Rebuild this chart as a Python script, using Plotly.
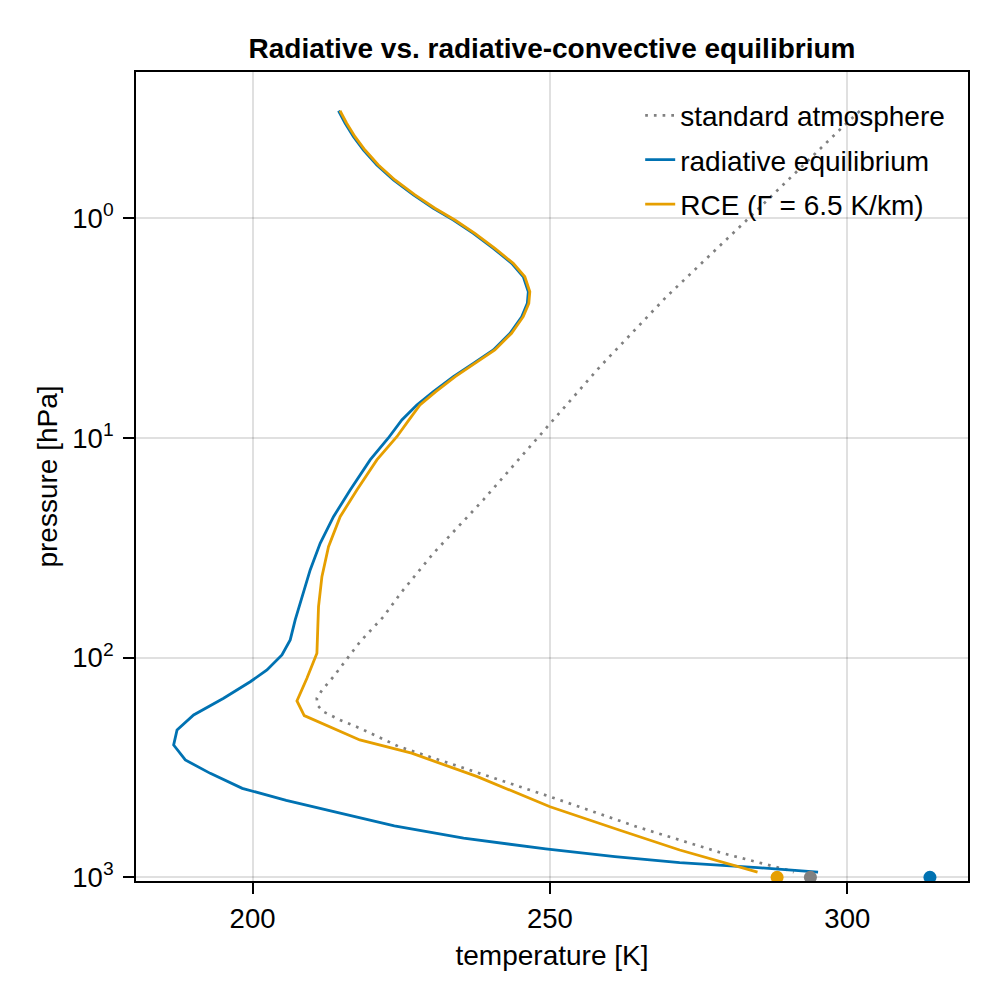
import plotly.graph_objects as go

# ---------------- data ----------------
# standard atmosphere
std_p = [0.325, 0.389, 1.019, 2.275, 4.742, 9.683, 19.14, 33.50, 50.12, 65.16,
         84.53, 106.2, 122.2, 140.3, 153.1, 164.4, 176.2, 192.3, 209.9, 254.1,
         319.2, 429.5, 588.8, 778.0, 926.8, 948.4]
std_T = [302.1, 299.0, 283.1, 269.6, 258.4, 248.3, 238.8, 230.4, 225.1, 222.0,
         218.1, 215.3, 213.6, 211.7, 210.8, 210.9, 211.9, 214.7, 218.1, 224.6,
         235.5, 250.0, 264.6, 279.1, 290.0, 291.0]

# radiative equilibrium
re_p = [0.324, 0.369, 0.425, 0.489, 0.572, 0.669, 0.783, 0.900, 1.018, 1.170,
        1.370, 1.603, 1.845, 2.159, 2.438, 2.805, 3.338, 3.977, 4.573, 5.262,
        6.158, 7.079, 8.283, 10.03, 12.59, 17.26, 22.82, 30.17, 39.9, 52.8,
        67.4, 83.1, 97.27, 113.8, 128.8, 153.1, 182.4, 213.3, 250.0, 292.4,
        336.5, 393.6, 446.7, 502.3, 583.4, 663.7, 743.0, 805.4, 857.0, 903.6,
        948.4]
re_T = [214.45, 215.57, 216.97, 218.65, 220.90, 223.69, 227.05, 230.41, 233.77, 237.13,
        240.49, 243.58, 245.53, 246.37, 246.20, 245.26, 243.30, 240.49, 237.13, 233.77,
        230.41, 227.62, 225.10, 222.80, 219.77, 216.41, 213.61, 211.37, 209.69, 208.30,
        207.17, 206.33, 204.94, 202.42, 199.61, 195.13, 190.09, 187.30, 186.73, 188.69,
        192.89, 198.27, 205.66, 213.66, 223.84, 235.48, 249.29, 260.92, 271.82, 284.91,
        295.09]

# radiative-convective equilibrium (lapse rate 6.5 K/km)
rce_p = [0.324, 0.369, 0.425, 0.489, 0.572, 0.669, 0.783, 0.900, 1.018, 1.170,
         1.370, 1.603, 1.845, 2.159, 2.438, 2.805, 3.338, 3.977, 4.573, 5.262,
         6.158, 7.079, 8.28, 9.87, 12.59, 17.26, 22.82, 31.26, 42.8, 58.6,
         95.5, 124.2, 157.4, 183.7, 237.1, 272.3, 348.3, 477.5, 609.5, 751.6,
         948.4]
rce_T = [214.70, 215.82, 217.22, 218.90, 221.15, 223.94, 227.30, 230.66, 234.02, 237.38,
         240.74, 243.83, 245.78, 246.62, 246.45, 245.51, 243.55, 240.74, 237.38, 234.07,
         230.81, 228.15, 226.30, 224.26, 220.90, 217.54, 214.73, 212.77, 211.66, 211.09,
         210.82, 209.14, 207.46, 208.69, 218.03, 226.75, 237.80, 250.02, 261.64, 271.82,
         284.91]

# surface temperatures (at 1000 hPa)
surf_p = [1000]
surf_T_std = [293.8]
surf_T_re = [313.9]
surf_T_rce = [288.2]

x_tickvals = [200, 250, 300]
y_tickvals = [1, 10, 100, 1000]
y_ticktext = ["10<sup>0</sup>", "10<sup>1</sup>", "10<sup>2</sup>", "10<sup>3</sup>"]

x_range = [180.4, 320.3]
y_range_log = [3.017, -0.666]  # reversed (pressure increases downward)

title_text = "Radiative vs. radiative-convective equilibrium"
x_title = "temperature [K]"
y_title = "pressure [hPa]"

# ---------------- style ----------------
BLUE = "#0072B2"
ORANGE = "#E69F00"
GRAY = "#808080"
FONT = "Liberation Sans"
FS = 28
TFS = 27.5

fig = go.Figure()

fig.add_trace(go.Scatter(x=std_T, y=std_p, mode="lines", name="standard atmosphere",
                         legendgroup="a",
                         line=dict(color=GRAY, width=2.7, dash="2.7px,6px")))
fig.add_trace(go.Scatter(x=re_T, y=re_p, mode="lines", name="radiative equilibrium",
                         legendgroup="b",
                         line=dict(color=BLUE, width=2.8)))
fig.add_trace(go.Scatter(x=rce_T, y=rce_p, mode="lines", name="RCE (Γ = 6.5 K/km)",
                         legendgroup="c",
                         line=dict(color=ORANGE, width=2.8)))

for tx, col in [(surf_T_std, GRAY), (surf_T_re, BLUE), (surf_T_rce, ORANGE)]:
    fig.add_trace(go.Scatter(x=tx, y=surf_p, mode="markers", showlegend=False,
                             marker=dict(color=col, size=13, line=dict(width=0))))

fig.update_layout(
    width=992, height=992,
    margin=dict(l=128, r=32, t=64, b=119, autoexpand=False),
    paper_bgcolor="white", plot_bgcolor="white",
    font=dict(family=FONT, size=FS, color="black"),
    title=dict(text=title_text, x=0.5, xanchor="center", xref="paper",
               y=0.9597, yanchor="middle", yref="container",
               font=dict(family=FONT, size=FS, color="black", weight="bold")),
    showlegend=True,
    legend=dict(x=0.606, xanchor="left", y=0.977, yanchor="top",
                bgcolor="rgba(0,0,0,0)", borderwidth=0,
                tracegroupgap=5, font=dict(family=FONT, size=FS, color="black")),
)

fig.update_xaxes(
    range=x_range, tickvals=x_tickvals, ticks="outside", ticklen=11, tickwidth=1.7,
    tickcolor="black", showgrid=True, gridcolor="rgba(0,0,0,0.12)", gridwidth=1.7,
    showline=True, linecolor="black", linewidth=1.7, mirror=True, zeroline=False,
    tickfont=dict(family=FONT, size=TFS), ticklabelstandoff=1,
    title=dict(text=x_title, font=dict(family=FONT, size=FS), standoff=13),
    automargin=False,
)
fig.update_yaxes(
    type="log", range=y_range_log, tickvals=y_tickvals, ticktext=y_ticktext,
    ticks="outside", ticklen=11, tickwidth=1.7, tickcolor="black",
    showgrid=True, gridcolor="rgba(0,0,0,0.12)", gridwidth=1.7,
    showline=True, linecolor="black", linewidth=1.7, mirror=True, zeroline=False,
    tickfont=dict(family=FONT, size=TFS), ticklabelstandoff=4,
    title=dict(text=y_title, font=dict(family=FONT, size=FS), standoff=7),
    automargin=False,
)

fig.write_html("out.html")
